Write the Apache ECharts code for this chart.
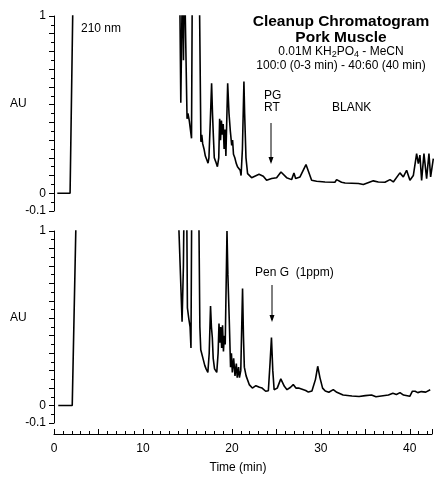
<!DOCTYPE html>
<html>
<head>
<meta charset="utf-8">
<script src="https://cdn.jsdelivr.net/npm/echarts@6/dist/echarts.min.js"></script>
<style>
  html, body { margin: 0; padding: 0; background: #fff; }
  #main { width: 435px; height: 477px; }
</style>
</head>
<body>
<div id="main"></div>
<script>
// top trace: blank pork muscle (values above 1 are off scale, clipped)
var blankTime = [0.37, 1.8, 2.1, 2.2, 13.95, 14.1, 14.2, 14.3, 14.4, 14.5, 14.6, 14.75, 14.9, 15.0, 15.15, 15.3, 15.4, 15.5, 16.25,
  16.45, 16.55, 16.65, 16.8, 16.95, 17.1, 17.25, 17.35, 17.5, 17.65, 17.75, 17.85, 17.95, 18.1, 18.3, 18.45, 18.55, 18.65, 18.75,
  18.85, 18.95, 19.05, 19.15, 19.25, 19.45, 19.6, 19.75, 19.9, 20.0, 20.1, 20.25, 20.4, 20.55, 20.7, 20.85, 20.95, 21.1, 21.27,
  21.35, 21.5, 21.68, 22.13, 22.96, 23.44, 23.81, 24.37, 24.93, 25.42, 26.05, 26.61, 26.87, 27.06, 27.55, 28.22, 28.85, 29.41,
  30.35, 31.46, 31.65, 32.2, 32.6, 34.1, 34.64, 35.76, 36.32, 37.06, 37.63, 38.0, 38.74, 39.12, 39.49, 39.86, 40.24, 40.61,
  40.8, 40.98, 41.17, 41.43, 41.73, 41.99, 42.18, 42.48];
var blankAU = [0, 0, 1.02, 2, 2, 1.05, 0.51, 0.9, 1.3, 0.75, 1.3, 1.3, 0.42, 0.45, 0.41, 0.4, 0.31, 1.3, 1.3,
  0.29, 0.33, 0.28, 0.25, 0.21, 0.19, 0.17, 0.2, 0.4, 0.62, 0.45, 0.32, 0.2, 0.18, 0.15, 0.2, 0.42, 0.3, 0.41,
  0.33, 0.39, 0.25, 0.36, 0.21, 0.62, 0.45, 0.35, 0.27, 0.3, 0.22, 0.2, 0.17, 0.15, 0.16, 0.13, 0.1, 0.25, 0.63,
  0.45, 0.2, 0.111, 0.088, 0.107, 0.096, 0.073, 0.083, 0.088, 0.12, 0.088, 0.077, 0.115, 0.083, 0.092, 0.162, 0.073, 0.068,
  0.064, 0.062, 0.077, 0.062, 0.058, 0.055, 0.049, 0.07, 0.064, 0.062, 0.077, 0.064, 0.115, 0.092, 0.13, 0.073, 0.1, 0.224,
  0.167, 0.215, 0.073, 0.224, 0.083, 0.224, 0.092, 0.196];

// bottom trace: spiked with Pen G 1 ppm
var penTime = [0.48, 2.05, 2.45, 2.55, 13.95, 14.05, 14.4, 14.55, 14.65, 14.9, 15.0, 15.15, 15.3, 15.4, 15.5, 16.25, 16.4,
  16.5, 16.65, 16.8, 16.95, 17.1, 17.3, 17.45, 17.6, 17.7, 17.8, 17.9, 18.05, 18.3, 18.45, 18.55, 18.65, 18.75, 18.85,
  18.95, 19.05, 19.15, 19.25, 19.45, 19.55, 19.7, 19.85, 19.95, 20.05, 20.2, 20.35, 20.5, 20.6, 20.75, 20.85, 21.0, 21.2,
  21.3, 21.4, 21.6, 21.95, 22.3, 22.7, 23.1, 23.4, 23.8, 24.1, 24.3, 24.45, 24.6, 24.75, 25.1, 25.5, 25.9, 26.2, 26.6,
  26.9, 27.2, 27.5, 27.9, 28.3, 28.6, 29.0, 29.4, 29.65, 29.9, 30.2, 30.5, 30.9, 31.4, 31.8, 32.5, 33.5, 34.3, 35.0,
  35.7, 36.2, 37.0, 37.6, 38.1, 38.5, 38.9, 39.3, 40.0, 40.3, 40.6, 40.9, 41.3, 41.8, 42.3];
var penAU = [0, 0, 1.0, 2, 2, 1.0, 0.48, 0.8, 1.3, 1.3, 0.56, 0.5, 0.45, 0.33, 1.3, 1.3, 0.45,
  0.32, 0.31, 0.26, 0.23, 0.21, 0.19, 0.3, 0.57, 0.45, 0.39, 0.27, 0.21, 0.19, 0.3, 0.47, 0.36, 0.45, 0.33,
  0.46, 0.31, 0.4, 0.35, 1.0, 0.75, 0.5, 0.22, 0.3, 0.19, 0.27, 0.17, 0.24, 0.16, 0.22, 0.16, 0.2, 0.67,
  0.4, 0.22, 0.17, 0.12, 0.1, 0.114, 0.105, 0.1, 0.082, 0.085, 0.25, 0.39, 0.2, 0.091, 0.1, 0.153, 0.11, 0.091, 0.105,
  0.12, 0.1, 0.1, 0.093, 0.086, 0.077, 0.083, 0.15, 0.225, 0.16, 0.1, 0.083, 0.076, 0.091, 0.076, 0.06, 0.055, 0.052, 0.057,
  0.06, 0.05, 0.056, 0.06, 0.07, 0.063, 0.074, 0.06, 0.053, 0.082, 0.082, 0.074, 0.08, 0.077, 0.09];

var yTickLabels = ['1', '0', '-0.1'];
var xTickLabels = ['0', '10', '20', '30', '40'];

function pairs(t, v) {
  return t.map(function (x, i) { return [x, v[i]]; });
}

var font = "'Liberation Sans', Arial, sans-serif";

function yAxisFor(idx) {
  return {
    gridIndex: idx, type: 'value', min: -0.1, max: 1, interval: 0.1,
    axisLine: { show: true, onZero: false, lineStyle: { color: '#000', width: 1 } },
    axisTick: { show: true, length: 5, lineStyle: { color: '#000' } },
    minorTick: { show: true, splitNumber: 2, length: 3, lineStyle: { color: '#000' } },
    splitLine: { show: false },
    axisLabel: {
      margin: 8, fontSize: 12, color: '#000', fontFamily: font,
      formatter: function (v) {
        var s = String(Math.round(v * 10) / 10);
        return yTickLabels.indexOf(s) >= 0 ? s : '';
      }
    }
  };
}

var myChart = echarts.init(document.getElementById('main'));
myChart.setOption({
  animation: false,
  backgroundColor: '#fff',
  grid: [
    { left: 54, top: 16, width: 379.5, height: 195 },
    { left: 54, top: 231, width: 379.5, height: 192 }
  ],
  xAxis: [
    { gridIndex: 0, type: 'value', min: 0, max: 42.5, show: false },
    {
      gridIndex: 1, type: 'value', min: 0, max: 42.5, interval: 5, offset: 11,
      axisLine: { show: true, onZero: false, lineStyle: { color: '#000', width: 1 } },
      axisTick: { show: true, inside: true, length: 5, lineStyle: { color: '#000' } },
      minorTick: { show: true, splitNumber: 5, length: 3, lineStyle: { color: '#000' } },
      splitLine: { show: false },
      axisLabel: {
        margin: 9, fontSize: 12, color: '#000', fontFamily: font,
        formatter: function (v) {
          var s = String(Math.round(v));
          return (Math.abs(v - Math.round(v)) < 1e-6 && xTickLabels.indexOf(s) >= 0) ? s : '';
        }
      }
    }
  ],
  yAxis: [yAxisFor(0), yAxisFor(1)],
  series: [
    {
      type: 'line', xAxisIndex: 0, yAxisIndex: 0, data: pairs(blankTime, blankAU),
      symbol: 'none', clip: true, lineStyle: { color: '#000', width: 1.6 }
    },
    {
      type: 'line', xAxisIndex: 1, yAxisIndex: 1, data: pairs(penTime, penAU),
      symbol: 'none', clip: true, lineStyle: { color: '#000', width: 1.6 }
    }
  ],
  graphic: [
    { type: 'text', x: 341, y: 22, style: { text: 'Cleanup Chromatogram', font: 'bold 15.5px ' + font, fill: '#000', align: 'center', verticalAlign: 'middle' } },
    { type: 'text', x: 341, y: 38, style: { text: 'Pork Muscle', font: 'bold 15.5px ' + font, fill: '#000', align: 'center', verticalAlign: 'middle' } },
    {
      type: 'text', x: 341, y: 52,
      style: {
        text: '0.01M KH{s|2}PO{s|4} - MeCN', font: '12px ' + font, fill: '#000', align: 'center', verticalAlign: 'middle',
        rich: { s: { fontSize: 9, fontFamily: font, fill: '#000', padding: [6, 0, 0, 0] } }
      }
    },
    { type: 'text', x: 341, y: 66, style: { text: '100:0 (0-3 min) - 40:60 (40 min)', font: '12px ' + font, fill: '#000', align: 'center', verticalAlign: 'middle' } },
    { type: 'text', x: 81, y: 29, style: { text: '210 nm', font: '12px ' + font, fill: '#000', verticalAlign: 'middle' } },
    { type: 'text', x: 10, y: 104, style: { text: 'AU', font: '12px ' + font, fill: '#000', verticalAlign: 'middle' } },
    { type: 'text', x: 10, y: 318, style: { text: 'AU', font: '12px ' + font, fill: '#000', verticalAlign: 'middle' } },
    { type: 'text', x: 264, y: 96, style: { text: 'PG', font: '12px ' + font, fill: '#000', verticalAlign: 'middle' } },
    { type: 'text', x: 264, y: 108, style: { text: 'RT', font: '12px ' + font, fill: '#000', verticalAlign: 'middle' } },
    { type: 'text', x: 332, y: 108, style: { text: 'BLANK', font: '12px ' + font, fill: '#000', verticalAlign: 'middle' } },
    { type: 'text', x: 255, y: 273, style: { text: 'Pen G  (1ppm)', font: '12px ' + font, fill: '#000', verticalAlign: 'middle' } },
    { type: 'text', x: 238, y: 468, style: { text: 'Time (min)', font: '12px ' + font, fill: '#000', align: 'center', verticalAlign: 'middle' } },
    // arrows
    { type: 'line', shape: { x1: 271, y1: 123, x2: 271, y2: 162 }, style: { stroke: '#000', lineWidth: 1 } },
    { type: 'polygon', shape: { points: [[268.5, 157], [273.5, 157], [271, 164]] }, style: { fill: '#000' } },
    { type: 'line', shape: { x1: 272, y1: 285, x2: 272, y2: 320 }, style: { stroke: '#000', lineWidth: 1 } },
    { type: 'polygon', shape: { points: [[269.5, 315], [274.5, 315], [272, 322]] }, style: { fill: '#000' } }
  ]
});
</script>
</body>
</html>
